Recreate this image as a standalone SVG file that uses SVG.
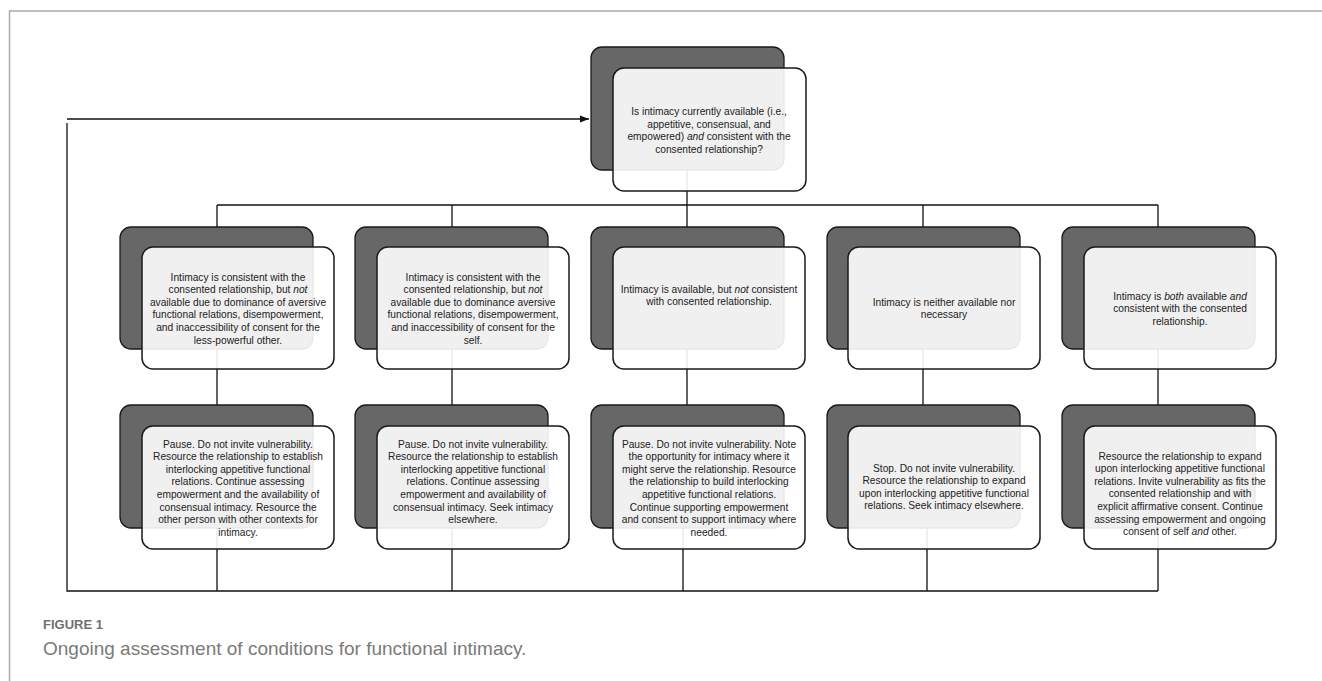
<svg xmlns="http://www.w3.org/2000/svg" width="1322" height="681" viewBox="0 0 1322 681">
<style>
.dark{fill:#676767;stroke:#1a1a1a;stroke-width:1.3}
.front{fill:#ffffff;fill-opacity:0.9;stroke:#1a1a1a;stroke-width:1.5}
.t{font-family:"Liberation Sans",Arial,sans-serif;font-size:10.2px;fill:#222;text-anchor:middle}
.c{fill:none;stroke:#111;stroke-width:1.3}
.i{font-style:italic}
.frame{fill:none;stroke:#ababab;stroke-width:1.5}
</style>
<defs>
<marker id="arr" markerUnits="userSpaceOnUse" markerWidth="9" markerHeight="8" refX="9" refY="4" orient="auto">
<path d="M0,0.5 L9,4 L0,7.5 z" fill="#111"/>
</marker>
</defs>
<rect width="1322" height="681" fill="#fff"/>
<path class="frame" d="M9.5,681 V11 H1322"/>

<g id="connectors">
<path class="c" d="M67,119 H589" marker-end="url(#arr)"/>
<path class="c" d="M67,123 V591 H1158"/>
<path class="c" d="M687,150 V205"/>
<path class="c" d="M217,205 H1158"/>
<path class="c" d="M217,205 V228 M452,205 V228 M687,205 V228 M923,205 V228 M1158,205 V228"/>
<path class="c" d="M217,300 V406 M452,300 V406 M687,300 V406 M923,300 V406 M1158,300 V406"/>
<path class="c" d="M217,480 V591 M452,480 V591 M683,480 V591 M927,480 V591 M1158,480 V591"/>
</g>

<g id="top">
<rect class="dark" x="591" y="47" width="193" height="123" rx="11"/>
<rect class="front" x="613" y="68" width="193" height="123" rx="11"/>
<text class="t"><tspan x="709" y="115">Is intimacy currently available (i.e.,</tspan><tspan x="709" y="127.5">appetitive, consensual, and</tspan><tspan x="709" y="140">empowered) <tspan class="i">and</tspan> consistent with the</tspan><tspan x="709" y="152.5">consented relationship?</tspan></text>
</g>

<g id="m1">
<rect class="dark" x="120" y="227" width="193" height="122" rx="11"/>
<rect class="front" x="142" y="247" width="192" height="122" rx="11"/>
<text class="t"><tspan x="238" y="280.5">Intimacy is consistent with the</tspan><tspan x="238" y="293.1">consented relationship, but <tspan class="i">not</tspan></tspan><tspan x="238" y="305.7">available due to dominance of aversive</tspan><tspan x="238" y="318.3">functional relations, disempowerment,</tspan><tspan x="238" y="330.9">and inaccessibility of consent for the</tspan><tspan x="238" y="343.5">less-powerful other.</tspan></text>
</g>

<g id="m2">
<rect class="dark" x="355" y="227" width="193" height="122" rx="11"/>
<rect class="front" x="377" y="247" width="192" height="122" rx="11"/>
<text class="t"><tspan x="473" y="280.5">Intimacy is consistent with the</tspan><tspan x="473" y="293.1">consented relationship, but <tspan class="i">not</tspan></tspan><tspan x="473" y="305.7">available due to dominance aversive</tspan><tspan x="473" y="318.3">functional relations, disempowerment,</tspan><tspan x="473" y="330.9">and inaccessibility of consent for the</tspan><tspan x="473" y="343.5">self.</tspan></text>
</g>

<g id="m3">
<rect class="dark" x="591" y="227" width="193" height="122" rx="11"/>
<rect class="front" x="613" y="247" width="192" height="122" rx="11"/>
<text class="t"><tspan x="709" y="292.5">Intimacy is available, but <tspan class="i">not</tspan> consistent</tspan><tspan x="709" y="305">with consented relationship.</tspan></text>
</g>

<g id="m4">
<rect class="dark" x="827" y="227" width="193" height="122" rx="11"/>
<rect class="front" x="848" y="247" width="192" height="122" rx="11"/>
<text class="t"><tspan x="944" y="305.5">Intimacy is neither available nor</tspan><tspan x="944" y="318">necessary</tspan></text>
</g>

<g id="m5">
<rect class="dark" x="1062" y="227" width="193" height="122" rx="11"/>
<rect class="front" x="1084" y="247" width="192" height="122" rx="11"/>
<text class="t"><tspan x="1180" y="299.5">Intimacy is <tspan class="i">both</tspan> available <tspan class="i">and</tspan></tspan><tspan x="1180" y="312">consistent with the consented</tspan><tspan x="1180" y="324.5">relationship.</tspan></text>
</g>

<g id="b1">
<rect class="dark" x="120" y="405" width="193" height="123" rx="11"/>
<rect class="front" x="142" y="426" width="192" height="123" rx="11"/>
<text class="t"><tspan x="238" y="447.5">Pause. Do not invite vulnerability.</tspan><tspan x="238" y="460.1">Resource the relationship to establish</tspan><tspan x="238" y="472.7">interlocking appetitive functional</tspan><tspan x="238" y="485.3">relations. Continue assessing</tspan><tspan x="238" y="497.9">empowerment and the availability of</tspan><tspan x="238" y="510.5">consensual intimacy. Resource the</tspan><tspan x="238" y="523.1">other person with other contexts for</tspan><tspan x="238" y="535.7">intimacy.</tspan></text>
</g>

<g id="b2">
<rect class="dark" x="355" y="405" width="193" height="123" rx="11"/>
<rect class="front" x="377" y="426" width="192" height="123" rx="11"/>
<text class="t"><tspan x="473" y="447.5">Pause. Do not invite vulnerability.</tspan><tspan x="473" y="460.1">Resource the relationship to establish</tspan><tspan x="473" y="472.7">interlocking appetitive functional</tspan><tspan x="473" y="485.3">relations. Continue assessing</tspan><tspan x="473" y="497.9">empowerment and availability of</tspan><tspan x="473" y="510.5">consensual intimacy. Seek intimacy</tspan><tspan x="473" y="523.1">elsewhere.</tspan></text>
</g>

<g id="b3">
<rect class="dark" x="591" y="405" width="193" height="123" rx="11"/>
<rect class="front" x="613" y="426" width="192" height="123" rx="11"/>
<text class="t"><tspan x="709" y="447.5">Pause. Do not invite vulnerability. Note</tspan><tspan x="709" y="460.1">the opportunity for intimacy where it</tspan><tspan x="709" y="472.7">might serve the relationship. Resource</tspan><tspan x="709" y="485.3">the relationship to build interlocking</tspan><tspan x="709" y="497.9">appetitive functional relations.</tspan><tspan x="709" y="510.5">Continue supporting empowerment</tspan><tspan x="709" y="523.1">and consent to support intimacy where</tspan><tspan x="709" y="535.7">needed.</tspan></text>
</g>

<g id="b4">
<rect class="dark" x="827" y="405" width="193" height="123" rx="11"/>
<rect class="front" x="848" y="426" width="192" height="123" rx="11"/>
<text class="t"><tspan x="944" y="471.5">Stop. Do not invite vulnerability.</tspan><tspan x="944" y="484.1">Resource the relationship to expand</tspan><tspan x="944" y="496.7">upon interlocking appetitive functional</tspan><tspan x="944" y="509.3">relations. Seek intimacy elsewhere.</tspan></text>
</g>

<g id="b5">
<rect class="dark" x="1062" y="405" width="193" height="123" rx="11"/>
<rect class="front" x="1084" y="426" width="192" height="123" rx="11"/>
<text class="t"><tspan x="1180" y="459.5">Resource the relationship to expand</tspan><tspan x="1180" y="472.1">upon interlocking appetitive functional</tspan><tspan x="1180" y="484.7">relations. Invite vulnerability as fits the</tspan><tspan x="1180" y="497.3">consented relationship and with</tspan><tspan x="1180" y="509.9">explicit affirmative consent. Continue</tspan><tspan x="1180" y="522.5">assessing empowerment and ongoing</tspan><tspan x="1180" y="535.1">consent of self <tspan class="i">and</tspan> other.</tspan></text>
</g>

<g id="caption">
<text x="43" y="629" font-family="'Liberation Sans',Arial,sans-serif" font-size="13" font-weight="bold" fill="#707070">FIGURE 1</text>
<text x="43" y="655" font-family="'Liberation Sans',Arial,sans-serif" font-size="19" fill="#7a7a7a">Ongoing assessment of conditions for functional intimacy.</text>
</g>
</svg>
